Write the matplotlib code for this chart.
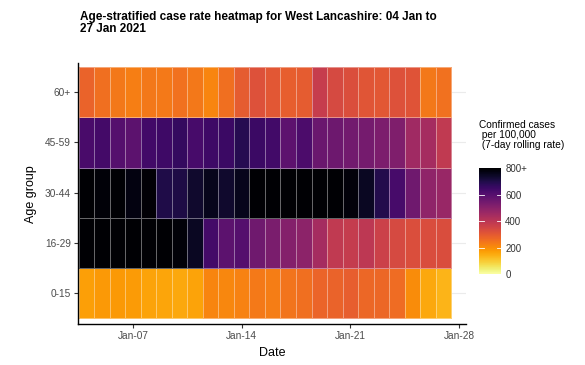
import numpy as np
import pandas as pd
import matplotlib
matplotlib.use("Agg")
import matplotlib.pyplot as plt
import matplotlib.dates as mdates

plt.rcParams['font.family'] = ['Liberation Sans', 'DejaVu Sans']

dates = pd.date_range("2021-01-04", "2021-01-27", freq="D")
age_groups = ["0-15", "16-29", "30-44", "45-59", "60+"]

# 7-day rolling case rate per 100,000 (800+ shown black)
rate_0_15 = [170, 180, 180, 178, 165, 160, 155, 165, 215, 210, 220, 235,
             230, 245, 255, 275, 280, 290, 270, 270, 262, 200, 155, 135]
rate_16_29 = [900, 880, 870, 860, 850, 830, 790, 750, 635, 590, 600, 550,
              530, 510, 495, 445, 390, 380, 395, 365, 340, 325, 330, 330]
rate_30_44 = [850, 790, 850, 775, 795, 700, 705, 735, 760, 735, 760, 850,
              850, 850, 850, 850, 850, 785, 750, 695, 630, 550, 490, 470]
rate_45_59 = [625, 635, 600, 590, 640, 645, 665, 630, 645, 650, 690, 650,
              640, 585, 620, 560, 555, 545, 540, 525, 520, 455, 445, 390]
rate_60p = [280, 255, 240, 225, 240, 235, 250, 240, 215, 255, 295, 320,
            305, 290, 295, 375, 340, 325, 310, 305, 320, 315, 240, 250]

rates = np.array([rate_0_15, rate_16_29, rate_30_44, rate_45_59, rate_60p])

fig = plt.figure(figsize=(5.85, 3.65), dpi=100)
ax = fig.add_axes([0.133, 0.112, 0.664, 0.715])

x = mdates.date2num(dates)
x_edges = np.append(x - 0.5, x[-1] + 0.5)
y_edges = np.arange(len(age_groups) + 1) - 0.5

for i in range(len(age_groups)):
    ax.axhline(i, color="#ebebeb", lw=0.8, zorder=0)

mesh = ax.pcolormesh(x_edges, y_edges, np.clip(rates, 0, 800), cmap="inferno_r",
                     vmin=0, vmax=800, edgecolor=(1, 1, 1, 0.4), linewidth=0.6,
                     zorder=1)

ax.set_xlim(x[0] - 0.56, x[-1] + 1.47)
ax.set_ylim(-0.62, 4.58)

ax.xaxis.set_major_locator(mdates.DayLocator(bymonthday=[7, 14, 21, 28]))
ax.xaxis.set_major_formatter(mdates.DateFormatter("%b-%d"))
ax.set_yticks(range(len(age_groups)))
ax.set_yticklabels(age_groups)

for s in ["top", "right"]:
    ax.spines[s].set_visible(False)
for s in ["left", "bottom"]:
    ax.spines[s].set_linewidth(1.0)
    ax.spines[s].set_color("black")
ax.tick_params(axis="both", labelsize=7.3, labelcolor="#4d4d4d", length=3,
               width=0.8, color="#333333", pad=2)

ax.set_xlabel("Date", fontsize=9, labelpad=4)
ax.set_ylabel("Age group", fontsize=9, labelpad=6)

fig.text(0.137, 0.905, "Age-stratified case rate heatmap for West Lancashire: 04 Jan to\n27 Jan 2021",
         fontsize=8.5, fontweight="bold", ha="left", va="bottom", linespacing=0.95)

cax = fig.add_axes([0.819, 0.249, 0.0376, 0.290])
cb = fig.colorbar(mesh, cax=cax, ticks=[0, 200, 400, 600, 800])
cb.ax.set_yticklabels(["0", "200", "400", "600", "800+"])
cb.outline.set_visible(False)
cb.ax.tick_params(labelsize=7, labelcolor="#333333", length=0, pad=3)
for t in [200, 400, 600]:
    cax.plot([0, 0.2], [t, t], color="white", lw=0.6, transform=cax.get_yaxis_transform())
    cax.plot([0.8, 1], [t, t], color="white", lw=0.6, transform=cax.get_yaxis_transform())

fig.text(0.818, 0.59, "Confirmed cases\n per 100,000\n (7-day rolling rate)",
         fontsize=7.3, ha="left", va="bottom", linespacing=1.0)

fig.savefig("out.png", dpi=100)
